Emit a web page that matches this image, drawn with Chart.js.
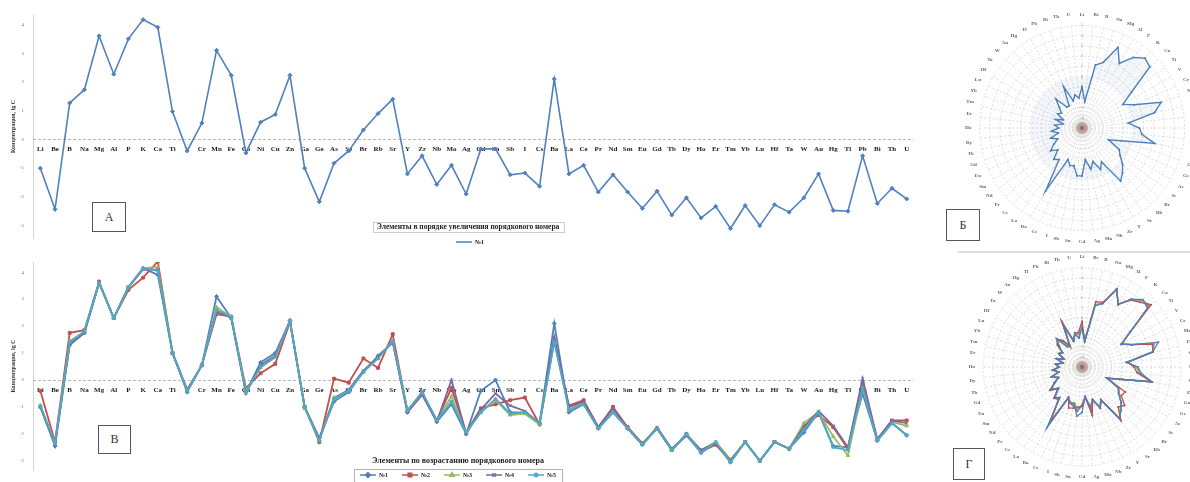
<!DOCTYPE html>
<html>
<head>
<meta charset="utf-8">
<script src="https://cdn.jsdelivr.net/npm/chart.js@4.4.1/dist/chart.umd.min.js"></script>
<style>
  html, body { margin: 0; padding: 0; background: #fff; width: 1190px; height: 482px; overflow: hidden; }
  canvas { position: absolute; }
  .tag { position: absolute; border: 1px solid #555; background: #fff; color: #333;
         font: 12px "Liberation Serif", serif; display: flex; align-items: center; justify-content: center; box-sizing: border-box; }
  .rule { position: absolute; left: 958px; top: 251px; width: 232px; height: 0; border-top: 2px solid #dcdcdc; }
</style>
</head>
<body>
<canvas id="chA" width="925" height="250" style="left:0;top:0"></canvas>
<canvas id="chB" width="925" height="232" style="left:0;top:250px"></canvas>
<canvas id="chR1" width="234" height="244" style="left:965px;top:6px"></canvas>
<canvas id="chR2" width="234" height="226" style="left:965px;top:254px"></canvas>
<div class="rule"></div>
<div class="tag" style="left:92px;top:202px;width:34px;height:30px">А</div>
<div class="tag" style="left:98px;top:425px;width:33px;height:29px">В</div>
<div class="tag" style="left:946px;top:209px;width:34px;height:32px">Б</div>
<div class="tag" style="left:953px;top:448px;width:32px;height:32px">Г</div>

<script>
// Elements in order of increasing atomic number
const elements = ['Li','Be','B','Na','Mg','Al','P','K','Ca','Ti','V','Cr','Mn','Fe','Co','Ni','Cu','Zn','Ga','Ge',
  'As','Se','Br','Rb','Sr','Y','Zr','Nb','Mo','Ag','Cd','Sn','Sb','I','Cs','Ba','La','Ce','Pr','Nd',
  'Sm','Eu','Gd','Tb','Dy','Ho','Er','Tm','Yb','Lu','Hf','Ta','W','Au','Hg','Tl','Pb','Bi','Th','U'];

// Sample №1, lg of concentration
const sampleA = [-1.0,-2.43,1.27,1.73,3.6,2.27,3.5,4.17,3.9,0.97,-0.4,0.57,3.1,2.23,-0.47,0.6,0.87,2.23,-1.0,-2.17,
  -0.83,-0.4,0.33,0.9,1.4,-1.2,-0.57,-1.57,-0.9,-1.9,-0.33,-0.33,-1.23,-1.17,-1.63,2.1,-1.2,-0.9,-1.83,-1.23,
  -1.83,-2.4,-1.8,-2.63,-2.03,-2.73,-2.33,-3.1,-2.3,-3.0,-2.27,-2.53,-2.03,-1.2,-2.47,-2.5,-0.57,-2.23,-1.7,-2.07];

// Samples №1–№5
const s1 = [-1.0,-2.45,1.3,1.75,3.6,2.3,3.45,4.15,3.9,1.0,-0.45,0.55,3.1,2.3,-0.45,0.65,1.0,2.2,-1.0,-2.15,
  -0.8,-0.45,0.3,0.9,1.4,-1.2,-0.5,-1.55,-0.9,-2.0,-0.4,0.0,-1.2,-1.2,-1.6,2.1,-1.2,-0.9,-1.8,-1.2,
  -1.8,-2.4,-1.8,-2.6,-2.05,-2.7,-2.35,-3.05,-2.3,-3.0,-2.3,-2.55,-1.95,-1.2,-2.45,-2.5,-0.5,-2.25,-1.6,-2.05];
const s2 = [-0.4,-2.3,1.75,1.85,3.65,2.3,3.35,3.8,4.4,1.0,-0.35,0.55,2.45,2.35,-0.3,0.25,0.6,2.15,-1.0,-2.3,
  0.05,-0.1,0.8,0.45,1.7,-1.15,-0.45,-1.5,-0.3,-1.95,-1.05,-0.9,-0.75,-0.65,-1.65,1.45,-0.95,-0.75,-1.75,-1.0,
  -1.75,-2.35,-1.8,-2.6,-2.0,-2.65,-2.4,-3.0,-2.3,-3.0,-2.3,-2.55,-1.7,-1.3,-1.75,-2.55,-0.1,-2.2,-1.5,-1.5];
const s3 = [-0.95,-2.35,1.45,1.8,3.6,2.3,3.45,4.15,4.2,1.05,-0.4,0.55,2.7,2.35,-0.4,0.45,0.85,2.2,-1.05,-2.2,
  -0.65,-0.4,0.3,0.8,1.45,-1.1,-0.5,-1.5,-0.6,-1.95,-1.2,-0.75,-1.3,-1.25,-1.65,1.5,-1.1,-0.85,-1.8,-1.1,
  -1.8,-2.4,-1.8,-2.6,-2.0,-2.6,-2.3,-2.95,-2.3,-3.0,-2.3,-2.55,-1.6,-1.2,-2.1,-2.8,-0.3,-2.25,-1.55,-1.7];
const s4 = [-1.0,-2.4,1.35,1.75,3.6,2.3,3.45,4.1,4.1,1.0,-0.4,0.55,2.55,2.3,-0.5,0.55,0.9,2.2,-1.0,-2.2,
  -0.7,-0.35,0.35,0.85,1.4,-1.2,-0.55,-1.55,0.0,-2.0,-1.1,-0.5,-0.95,-1.15,-1.6,1.6,-1.0,-0.8,-1.75,-1.05,
  -1.8,-2.4,-1.75,-2.55,-2.05,-2.6,-2.35,-3.0,-2.3,-3.0,-2.3,-2.55,-1.75,-1.15,-1.7,-2.5,0.05,-2.2,-1.5,-1.6];
const s5 = [-0.95,-2.35,1.4,1.8,3.6,2.3,3.45,4.15,4.05,1.0,-0.4,0.55,2.6,2.35,-0.45,0.5,0.85,2.2,-1.0,-2.25,
  -0.7,-0.4,0.3,0.8,1.45,-1.15,-0.45,-1.5,-0.8,-1.95,-1.2,-0.7,-1.25,-1.2,-1.6,1.4,-1.1,-0.9,-1.8,-1.2,
  -1.8,-2.4,-1.8,-2.6,-2.0,-2.7,-2.3,-3.05,-2.3,-3.0,-2.3,-2.55,-1.85,-1.2,-2.5,-2.6,-0.3,-2.25,-1.6,-2.05];

const sampleNames = ['№1','№2','№3','№4','№5'];
const yTicks = [-3,-2,-1,0,1,2,3,4];
const yTitle = 'Концентрация, lg С';
const captionA = 'Элементы в порядке увеличения порядкового номера';
const captionB = 'Элементы по возрастанию порядкового номера';

const colors = ['#4F81BD','#C0504D','#9BBB59','#8064A2','#4BACC6'];
const markers = ['rectRot','rect','triangle','crossRot','star'];
const SERIF = '"Liberation Serif", "Times New Roman", serif';

// dashed reference line at lg = 0
const zeroLine = {
  id: 'zeroLine',
  beforeDatasetsDraw(chart) {
    const {ctx, chartArea: {left, right}, scales: {y}} = chart;
    const yp = Math.round(y.getPixelForValue(0)) + 0.5;
    ctx.save();
    ctx.strokeStyle = '#b8b8b8';
    ctx.lineWidth = 1;
    ctx.setLineDash([3, 2]);
    ctx.beginPath(); ctx.moveTo(left, yp); ctx.lineTo(right, yp); ctx.stroke();
    ctx.restore();
  }
};

// axis caption and legend laid over the lower part of the plot
const overlay = {
  id: 'overlay',
  afterDraw(chart, args, o) {
    const ctx = chart.ctx;
    ctx.save();
    ctx.font = `bold ${o.capSize}px ${SERIF}`;
    ctx.textAlign = 'center'; ctx.textBaseline = 'middle';
    const w = ctx.measureText(o.caption).width;
    ctx.fillStyle = 'rgba(255,255,255,0.9)';
    ctx.fillRect(o.cx - w / 2 - 4, o.cy - 5, w + 8, 10);
    if (o.capBox) {
      ctx.strokeStyle = '#9a9a9a'; ctx.lineWidth = 1; ctx.setLineDash([1, 1]);
      ctx.strokeRect(Math.round(o.cx - w / 2 - 4) + 0.5, Math.round(o.cy - 5) + 0.5, Math.round(w + 8), 10);
      ctx.setLineDash([]);
    }
    ctx.fillStyle = '#222';
    ctx.fillText(o.caption, o.cx, o.cy);

    // legend
    const ds = chart.data.datasets;
    ctx.font = `bold ${o.legSize}px ${SERIF}`;
    const items = ds.map(d => ({d, tw: ctx.measureText(d.label).width}));
    const itemW = items.map(it => 16 + 3 + it.tw);
    const gap = o.legGap;
    const total = itemW.reduce((a, b) => a + b, 0) + gap * (items.length - 1);
    let x = o.lx - total / 2;
    if (o.legBox) {
      ctx.fillStyle = '#fff';
      ctx.fillRect(x - 6, o.ly - 6, total + 12, 14);
      ctx.strokeStyle = '#b0b0b0'; ctx.lineWidth = 1;
      ctx.strokeRect(Math.round(x - 6) + 0.5, Math.round(o.ly - 6) + 0.5, Math.round(total + 12), 14);
    }
    items.forEach((it, i) => {
      const d = it.d;
      ctx.strokeStyle = d.borderColor; ctx.lineWidth = 1.5;
      ctx.beginPath(); ctx.moveTo(x, o.ly); ctx.lineTo(x + 16, o.ly); ctx.stroke();
      if (o.legMarkers) {
        ctx.fillStyle = d.backgroundColor;
        Chart.helpers.drawPoint(ctx, {pointStyle: d.pointStyle, radius: 2.5, borderWidth: 1, rotation: 0}, x + 8, o.ly);
      }
      ctx.fillStyle = '#222'; ctx.textAlign = 'left';
      ctx.fillText(d.label, x + 19, o.ly + 0.5);
      x += itemW[i] + gap;
    });
    ctx.restore();
  }
};

function lineOptions(yMin, yMax, padTop, padBottom, ov) {
  return {
    responsive: false,
    animation: false,
    layout: {padding: {left: 0, right: 11, top: padTop, bottom: padBottom}},
    plugins: {legend: {display: false}, tooltip: {enabled: false}, overlay: ov},
    scales: {
      x: {
        type: 'category',
        offset: true,
        position: {y: 0},
        grid: {display: false, drawTicks: false},
        border: {display: false},
        ticks: {autoSkip: false, maxRotation: 0, minRotation: 0, padding: 6, color: '#1a1a1a',
                font: {family: SERIF, size: 7, weight: 'bold'}}
      },
      y: {
        min: yMin, max: yMax,
        afterBuildTicks: s => { s.ticks = yTicks.map(v => ({value: v})); },
        afterFit: s => { s.width = 33; },
        grid: {display: false, drawTicks: false},
        border: {display: true, color: '#d4d4d4', width: 1},
        ticks: {padding: 9, color: '#777', font: {family: SERIF, size: 5}},
        title: {display: true, text: yTitle, color: '#333', padding: {top: 10, bottom: 0},
                font: {family: SERIF, size: 6, weight: 'bold'}}
      }
    }
  };
}

function lineSet(label, data, i, width) {
  return {
    label, data,
    borderColor: colors[i], backgroundColor: colors[i],
    borderWidth: width, pointStyle: markers[i], pointRadius: 2, pointBorderWidth: 1,
    pointBorderColor: colors[i], pointBackgroundColor: colors[i],
    tension: 0, order: 4 - i
  };
}

// Panel A: sample №1
new Chart(document.getElementById('chA'), {
  type: 'line',
  data: {labels: elements, datasets: [lineSet(sampleNames[0], sampleA, 0, 1.6)]},
  options: lineOptions(-3.43, 4.33, 15, 2, {
    caption: captionA, capSize: 7.5, capBox: true, cx: 468, cy: 227,
    lx: 470, ly: 242, legSize: 6, legGap: 6, legBox: false, legMarkers: false
  }),
  plugins: [zeroLine, overlay]
});

// Panel B: samples №1–№5 (canvas starts 250px down the page)
const seriesB = [s1, s2, s3, s4, s5];
new Chart(document.getElementById('chB'), {
  type: 'line',
  data: {labels: elements, datasets: seriesB.map((d, i) => lineSet(sampleNames[i], d, i, 1.8))},
  options: lineOptions(-3.34, 4.38, 8, 0, {
    caption: captionB, capSize: 8, capBox: false, cx: 458, cy: 211,
    lx: 458, ly: 225, legSize: 6, legGap: 14, legBox: true, legMarkers: true
  }),
  plugins: [zeroLine, overlay]
});

// dark spot where the polar spokes converge
const hub = {
  id: 'hub',
  afterDraw(chart) {
    const s = chart.scales.r, ctx = chart.ctx;
    const g = ctx.createRadialGradient(s.xCenter, s.yCenter, 0, s.xCenter, s.yCenter, 9);
    g.addColorStop(0, 'rgba(120,80,70,0.85)');
    g.addColorStop(0.5, 'rgba(150,110,100,0.5)');
    g.addColorStop(1, 'rgba(200,170,170,0)');
    ctx.save(); ctx.fillStyle = g;
    ctx.beginPath(); ctx.arc(s.xCenter, s.yCenter, 9, 0, Math.PI * 2); ctx.fill();
    ctx.restore();
  }
};

function radarOptions() {
  return {
    responsive: false,
    animation: false,
    layout: {padding: 0},
    plugins: {legend: {display: false}, tooltip: {enabled: false}},
    elements: {line: {tension: 0}},
    scales: {
      r: {
        min: -5, max: 5,
        ticks: {stepSize: 1, color: '#999', backdropColor: 'rgba(0,0,0,0)', font: {size: 4, family: SERIF}},
        grid: {circular: true, color: '#d6d6d6', lineWidth: 0.8},
        border: {dash: [2, 2]},
        angleLines: {color: '#d0d0d0', lineWidth: 0.7, borderDash: [2, 2]},
        pointLabels: {color: '#666', padding: 4, font: {size: 5, family: SERIF, weight: 'bold'}}
      }
    }
  };
}

// Panel Б: sample №1 on polar axes
new Chart(document.getElementById('chR1'), {
  type: 'radar',
  data: {labels: elements, datasets: [{
    label: sampleNames[0], data: sampleA, borderColor: '#4F81BD', borderWidth: 1.4,
    backgroundColor: 'rgba(79,129,189,0.07)', fill: true,
    pointRadius: 1, pointBackgroundColor: '#4F81BD', pointBorderWidth: 0
  }]},
  options: radarOptions(),
  plugins: [hub]
});

// Panel Г: samples №1–№5 on polar axes
new Chart(document.getElementById('chR2'), {
  type: 'radar',
  data: {labels: elements, datasets: seriesB.map((d, i) => ({
    label: sampleNames[i], data: d, borderColor: colors[i], borderWidth: 1.3,
    backgroundColor: 'rgba(0,0,0,0)', fill: false, order: i,
    pointRadius: 1, pointBackgroundColor: colors[i], pointBorderWidth: 0
  }))},
  options: radarOptions(),
  plugins: [hub]
});
</script>
</body>
</html>
